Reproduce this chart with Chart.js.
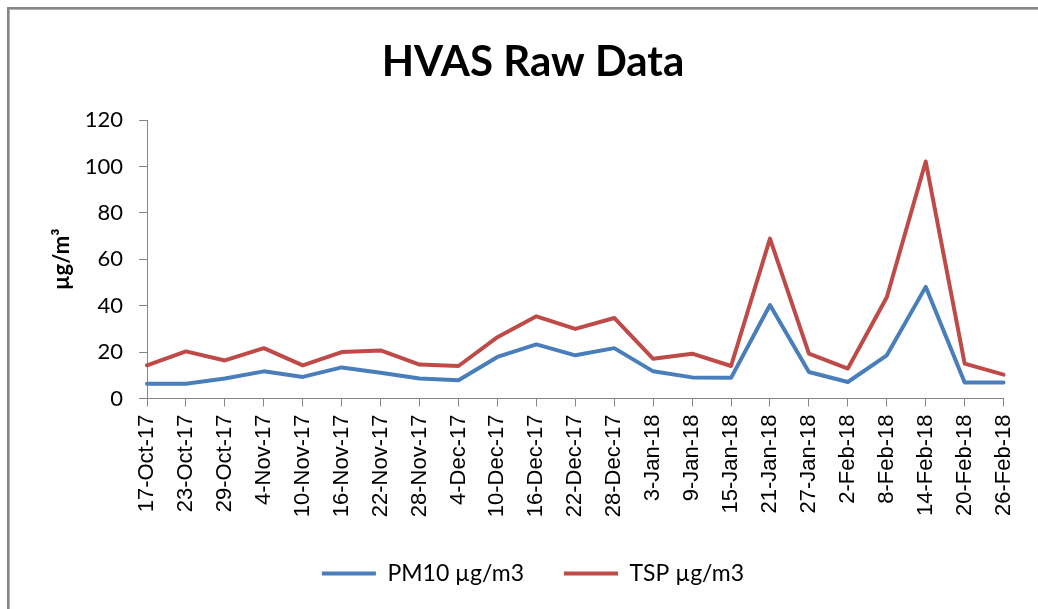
<!DOCTYPE html>
<html>
<head>
<meta charset="utf-8">
<script src="https://cdn.jsdelivr.net/npm/chart.js@4"></script>
<style>
  html, body { margin: 0; padding: 0; background: #fff; }
  #wrap { width: 1038px; height: 609px; }
</style>
</head>
<body>
<div id="wrap"><canvas id="hvasChart" width="1038" height="609"></canvas></div>
<script>
const fechas = ['17-Oct-17', '23-Oct-17', '29-Oct-17', '4-Nov-17', '10-Nov-17', '16-Nov-17',
  '22-Nov-17', '28-Nov-17', '4-Dec-17', '10-Dec-17', '16-Dec-17', '22-Dec-17', '28-Dec-17',
  '3-Jan-18', '9-Jan-18', '15-Jan-18', '21-Jan-18', '27-Jan-18', '2-Feb-18', '8-Feb-18',
  '14-Feb-18', '20-Feb-18', '26-Feb-18'];
const pm10 = [6.4, 6.4, 8.6, 11.7, 9.3, 13.4, 11.1, 8.6, 7.9, 17.9, 23.3, 18.6, 21.7,
  11.7, 9.1, 8.9, 40.3, 11.4, 7.1, 18.6, 48.1, 6.9, 6.9];
const tsp = [14.3, 20.3, 16.4, 21.7, 14.3, 20.0, 20.7, 14.6, 14.0, 26.4, 35.4, 30.0, 34.7,
  17.1, 19.3, 14.0, 68.9, 19.3, 12.9, 43.6, 102.1, 15.0, 10.3];
const yTicks = [0, 20, 40, 60, 80, 100, 120];

const gris = '#868686';
const padIzq = 58;

// marco gris arriba y a la izquierda, como en la hoja de Excel
const marco = {
  id: 'marco',
  beforeDraw(chart) {
    const ctx = chart.ctx;
    ctx.save();
    ctx.fillStyle = '#ffffff';
    ctx.fillRect(0, 0, chart.width, chart.height);
    ctx.fillStyle = gris;
    ctx.fillRect(7, 7, chart.width - 7, 2);
    ctx.fillRect(7, 7, 2, chart.height - 7);
    ctx.fillStyle = '#b0b0b0';
    ctx.fillRect(9, 9, chart.width - 9, 1);
    ctx.fillRect(9, 9, 1, chart.height - 9);
    ctx.restore();
  }
};

const graficaHvas = document.getElementById('hvasChart').getContext('2d');
const chart = new Chart(graficaHvas, {
  type: 'line',
  data: {
    labels: fechas,
    datasets: [{
      label: 'PM10 µg/m3',
      data: pm10,
      borderColor: '#4a7ebb',
      backgroundColor: '#4a7ebb',
      borderWidth: 4,
      pointRadius: 0,
      tension: 0,
      borderJoinStyle: 'round',
      borderCapStyle: 'round'
    }, {
      label: 'TSP µg/m3',
      data: tsp,
      borderColor: '#be4b48',
      backgroundColor: '#be4b48',
      borderWidth: 4,
      pointRadius: 0,
      tension: 0,
      borderJoinStyle: 'round',
      borderCapStyle: 'round'
    }]
  },
  options: {
    responsive: false,
    animation: false,
    layout: { padding: { left: padIzq, right: 30, top: 0, bottom: 14 } },
    plugins: {
      title: {
        display: true,
        text: 'HVAS Raw Data',
        color: '#000',
        font: { family: 'Lato', size: 42, weight: 'bold' },
        padding: { top: 37, bottom: 32.6 }
      },
      legend: {
        position: 'bottom',
        maxHeight: 86.5,
        labels: {
          color: '#000',
          font: { family: 'Lato', size: 23 },
          usePointStyle: true,
          pointStyle: 'line',
          pointStyleWidth: 54,
          padding: 40
        }
      },
      tooltip: { enabled: false }
    },
    scales: {
      x: {
        offset: false,
        afterFit(scale) { scale.height = 123.5; },
        border: { color: gris, width: 1 },
        grid: { drawOnChartArea: false, drawTicks: true, tickLength: 8, color: gris },
        ticks: {
          autoSkip: false,
          maxRotation: 90,
          minRotation: 90,
          padding: 8,
          color: '#000',
          font: { family: 'Liberation Sans', size: 22 }
        }
      },
      y: {
        min: 0,
        max: 120,
        afterFit(scale) { scale.width = 147 - padIzq; },
        afterBuildTicks(scale) { scale.ticks = yTicks.map(v => ({ value: v })); },
        border: { color: gris, width: 1 },
        grid: { drawOnChartArea: false, drawTicks: true, tickLength: 8, color: gris },
        ticks: {
          padding: 16,
          color: '#000',
          font: { family: 'Lato', size: 22 }
        },
        title: {
          display: true,
          text: 'µg/m³',
          color: '#000',
          font: { family: 'Lato', size: 22, weight: 'bold' },
          padding: { top: -9.2, bottom: 0 }
        }
      }
    }
  },
  plugins: [marco]
});
</script>
</body>
</html>
